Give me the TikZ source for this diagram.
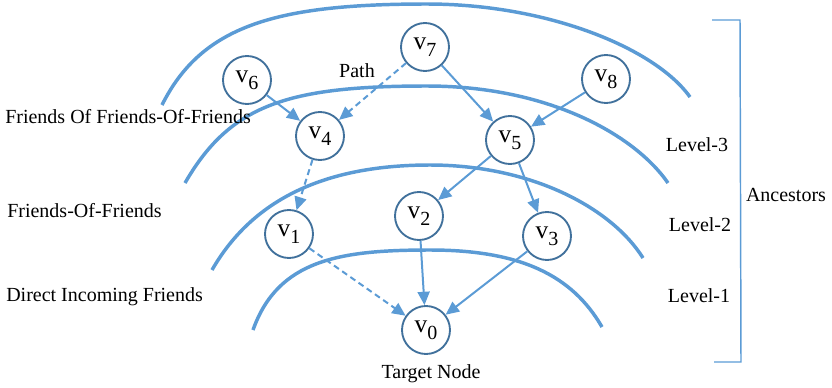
\documentclass[tikz,border=0pt]{standalone}
\usepackage{fontspec}
\setmainfont{Liberation Serif}
\usetikzlibrary{arrows.meta}
\definecolor{arcblue}{HTML}{5B9BD5}
\definecolor{nodeblue}{HTML}{41719C}
\newcommand{\vlab}[1]{\fontsize{19}{19}\selectfont v\raisebox{-5pt}{\fontsize{15}{15}\selectfont #1}}
\begin{document}
\begin{tikzpicture}[x=0.75pt,y=-0.75pt,
  vnode/.style={circle,draw=nodeblue,line width=1.4pt,fill=white,minimum size=36pt,inner sep=0pt},
  arcline/.style={arcblue,line width=2.6pt},
  link/.style={arcblue,line width=1.5pt,-{Triangle[length=10pt,width=9pt]}},
  dlink/.style={link,dash pattern=on 4.5pt off 3pt},
  lab/.style={font=\fontsize{15}{18}\selectfont,inner sep=0pt},
  bracketline/.style={arcblue,line width=1.1pt}
]
\useasboundingbox (0,0) rectangle (832,387);
% level arcs
\draw[arcline] (162,105) .. controls (202,25) and (277,4) .. (427,4)
                         .. controls (547,4) and (655,48) .. (690,97);
\draw[arcline] (185,183) .. controls (230,105) and (287,86) .. (427,86)
                         .. controls (547,86) and (634,134) .. (668,183);
\draw[arcline] (212,270) .. controls (254.5,196) and (330,165) .. (430,165)
                         .. controls (530,165) and (611,207) .. (643,258);
\draw[arcline] (253,330) .. controls (278,259.5) and (340,250) .. (430,250)
                         .. controls (520,250) and (572,275) .. (602,327);
% nodes
\node[vnode] (v7) at (425,47) {\vlab{7}};
\node[vnode] (v6) at (247,80) {\vlab{6}};
\node[vnode] (v8) at (606,79) {\vlab{8}};
\node[vnode] (v4) at (320,136) {\vlab{4}};
\node[vnode] (v5) at (510,140) {\vlab{5}};
\node[vnode] (v1) at (289,234) {\vlab{1}};
\node[vnode] (v2) at (419,216) {\vlab{2}};
\node[vnode] (v3) at (547,236) {\vlab{3}};
\node[vnode] (v0) at (426,330) {\vlab{0}};
% edges
\draw[link] (v6) -- (v4);
\draw[dlink] (v7) -- (v4);
\draw[link] (v7) -- (v5);
\draw[link] (v8) -- (v5);
\draw[dlink] (v4) -- (v1);
\draw[link] (v5) -- (v2);
\draw[link] (v5) -- (v3);
\draw[dlink] (v1) -- (v0);
\draw[link] (v2) -- (v0);
\draw[link] (v3) -- (v0);
% labels
\node[lab,anchor=west] (l3) at (5,117) {Friends Of Friends-Of-Friends};
\node[lab,anchor=west] (l2) at (7,211) {Friends-Of-Friends};
\node[lab,anchor=west] (l1) at (6,297) {Direct Incoming Friends};
\node[lab] (path) at (357,71) {Path};
\node[lab] (lv3) at (697,145) {Level-3};
\node[lab] (lv2) at (700,225) {Level-2};
\node[lab] (lv1) at (699,296) {Level-1};
\node[lab] (anc) at (786,195) {Ancestors};
\node[lab] (target) at (431,374) {Target Node};
% bracket
\draw[bracketline] (712,20) -- (740,20) -- (741,362) -- (714,362);
\end{tikzpicture}
\end{document}
